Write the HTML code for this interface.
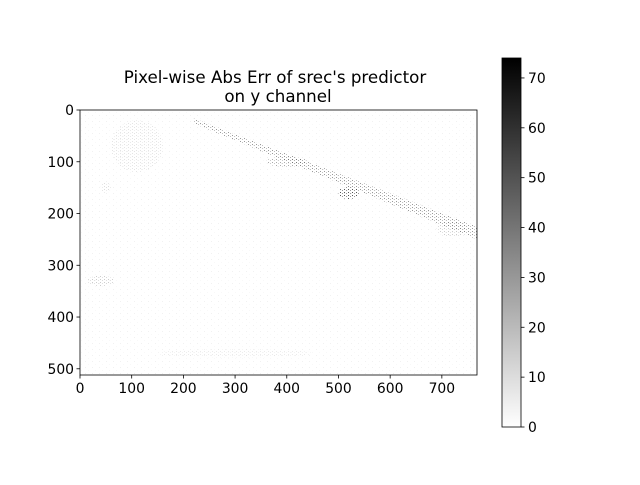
<!DOCTYPE html>
<html><head><meta charset="utf-8"><style>
body{margin:0;background:#fff;}
svg text{font-family:"DejaVu Sans","Liberation Sans",sans-serif;font-size:13.9px;fill:#000;}
</style></head><body>
<svg id="chart" width="640" height="480" xmlns="http://www.w3.org/2000/svg">
<defs>
<linearGradient id="cmap" x1="0" y1="1" x2="0" y2="0">
<stop offset="0" stop-color="#fff"/><stop offset="1" stop-color="#000"/>
</linearGradient>
<pattern id="dots" width="4" height="3" patternUnits="userSpaceOnUse">
<rect x="0" y="0" width="1" height="1" fill="#555"/><rect x="2" y="1" width="1" height="1" fill="#999"/>
</pattern>
<pattern id="lightdots" width="7" height="6" patternUnits="userSpaceOnUse">
<rect x="1" y="1" width="1" height="1" fill="#ddd"/><rect x="4" y="4" width="1" height="1" fill="#eee"/>
</pattern>
</defs>
<text x="275" y="83" text-anchor="middle" style="font-size:16.7px">Pixel-wise Abs Err of srec's predictor</text>
<text x="278" y="102" text-anchor="middle" style="font-size:16.7px">on y channel</text>
<g id="img"></g>
<g id="axes"></g>
<g id="cbar"></g>
</svg>
<script>
const xTicks=[0,100,200,300,400,500,600,700];
const yTicks=[0,100,200,300,400,500];
const cbTicks=[0,10,20,30,40,50,60,70];
const imgWidth=768, imgHeight=512, cbMax=74;
const bandStart=[220,20], bandEnd=[768,245];
// blobs: [cx, cy, rx, ry, intensity]
const blobs=[[520,160,20,12,55],[110,70,50,50,8],[40,330,25,10,15],[400,100,40,10,25],[720,230,30,15,15],[50,150,10,10,10],[300,470,150,8,6]];
const ns="http://www.w3.org/2000/svg";
const L=80,R=477,T=110,B=375;
const sx=v=>L+v*(R-L)/imgWidth, sy=v=>T+v*(B-T)/imgHeight;
const cT=58,cB=427,cL=502,cR=521;
const cy=v=>cB-v*(cB-cT)/cbMax;
function mk(tag,attrs,parent){const e=document.createElementNS(ns,tag);for(const k in attrs)e.setAttribute(k,attrs[k]);parent.appendChild(e);return e;}
const img=document.getElementById('img'),axes=document.getElementById('axes'),cbar=document.getElementById('cbar');
mk('rect',{x:L,y:T,width:R-L,height:B-T,fill:'url(#lightdots)',opacity:0.4},img);
const band=mk('polygon',{points:`${sx(bandStart[0])},${sy(bandStart[1]-4)} ${sx(bandEnd[0])},${sy(bandEnd[1]-20)} ${sx(bandEnd[0])},${sy(bandEnd[1]+5)} ${sx(bandStart[0])},${sy(bandStart[1]+6)}`,fill:'url(#dots)',opacity:0.6},img);


blobs.forEach(b=>{
 const e=mk('ellipse',{cx:sx(b[0]),cy:sy(b[1]),rx:b[2]*(R-L)/imgWidth,ry:b[3]*(B-T)/imgHeight,fill:'url(#dots)',opacity:Math.min(1,b[4]/50)},img);
 
 
});
mk('rect',{x:L,y:T,width:R-L,height:B-T,fill:'none',stroke:'#000','stroke-width':0.8},axes);
xTicks.forEach(t=>{const x=sx(t);mk('line',{x1:x,x2:x,y1:B,y2:B+3.5,stroke:'#000','stroke-width':0.8},axes);
 const tx=mk('text',{x:x,y:B+18,'text-anchor':'middle'},axes);tx.textContent=t;
 
 });
yTicks.forEach(t=>{const y=sy(t);mk('line',{x1:L-3.5,x2:L,y1:y,y2:y,stroke:'#000','stroke-width':0.8},axes);
 const tx=mk('text',{x:L-6,y:y+5,'text-anchor':'end'},axes);tx.textContent=t;
 
 });
mk('rect',{x:cL,y:cT,width:cR-cL,height:cB-cT,fill:'url(#cmap)',stroke:'#000','stroke-width':0.8},cbar);
cbTicks.forEach(t=>{const y=cy(t);mk('line',{x1:cR,x2:cR+3.5,y1:y,y2:y,stroke:'#000','stroke-width':0.8},cbar);
 const tx=mk('text',{x:cR+7,y:y+5},cbar);tx.textContent=t;
 
 });
</script>
</body></html>
